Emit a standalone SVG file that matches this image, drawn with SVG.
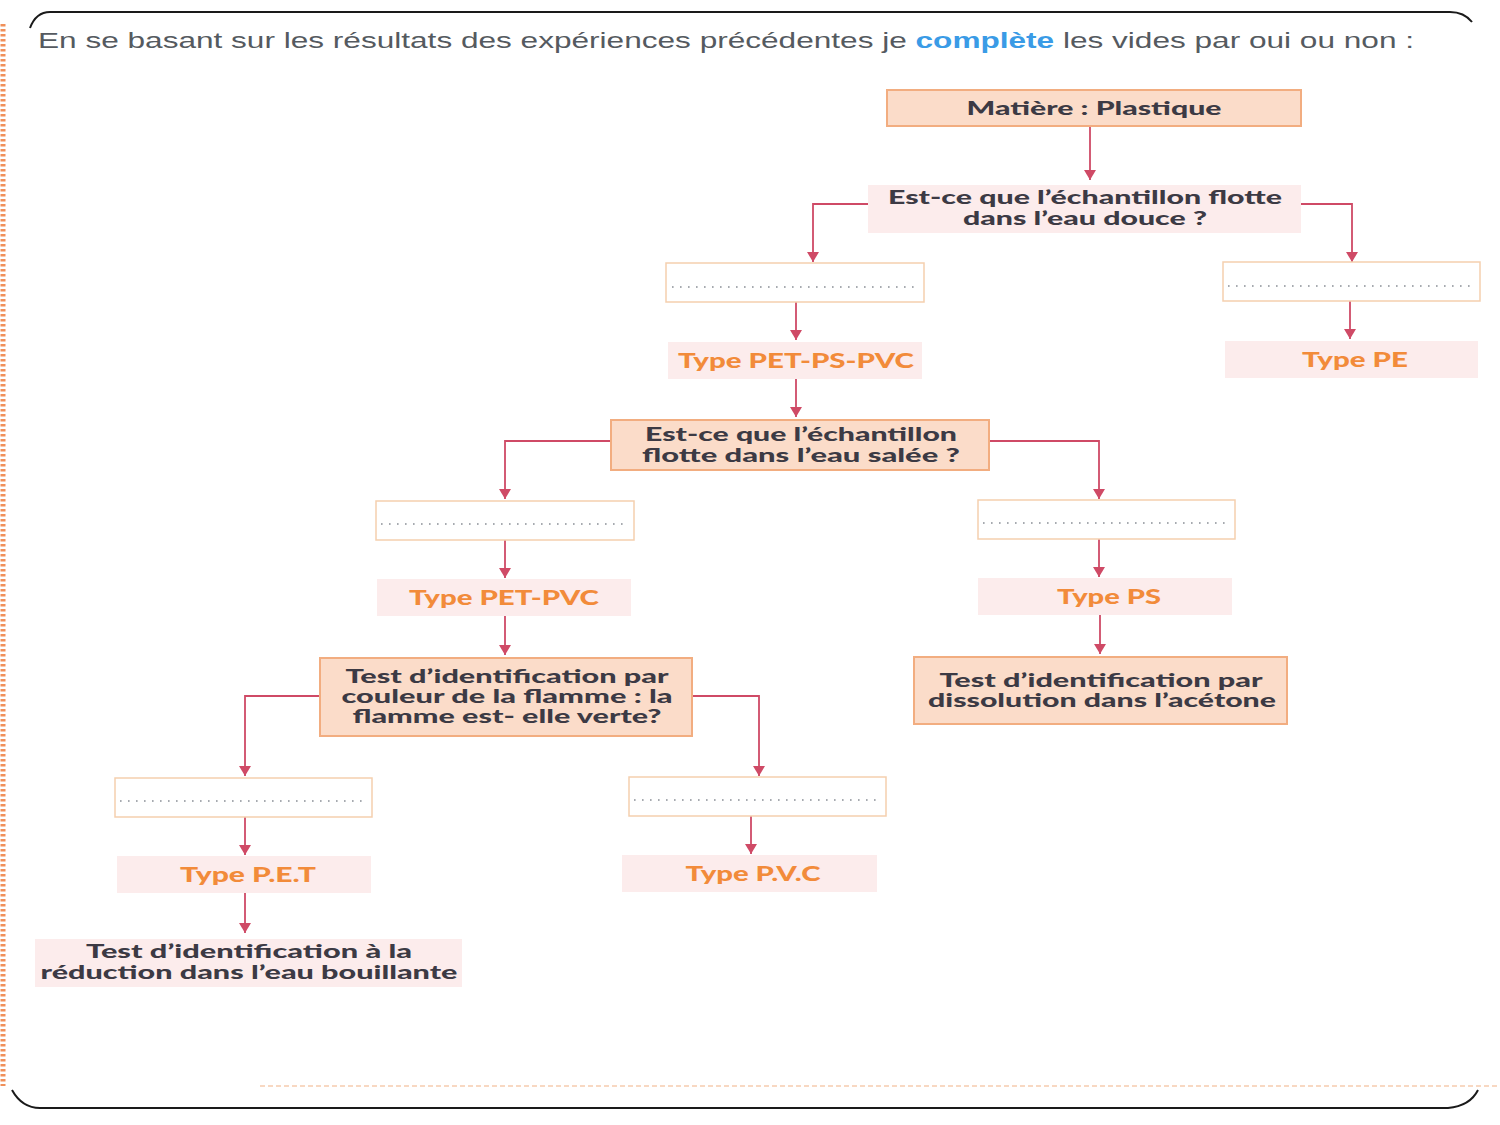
<svg xmlns="http://www.w3.org/2000/svg" width="1500" height="1125" viewBox="0 0 1500 1125">
<defs>
<marker id="ah" viewBox="0 0 10 12" refX="10" refY="6" markerWidth="10" markerHeight="12" markerUnits="userSpaceOnUse" orient="auto">
<path d="M0,0 L10,6 L0,12 Z" fill="#cf4a66"/>
</marker>
<style>
.frame{fill:none;stroke:#1a1a1a;stroke-width:2}
.dots{fill:none;stroke:#f0905a;stroke-width:5;stroke-dasharray:2.5 2.5}
.title{font-family:"Liberation Sans",Arial,sans-serif;font-size:22px;fill:#555a60}
.blue{fill:#3a9be6;font-weight:bold}
.peach{fill:#fbdcc9;stroke:#f2ad80;stroke-width:2}
.pink{fill:#fcecec}
.empty{fill:#ffffff;stroke:#f5cfae;stroke-width:1.5}
.fill{stroke:#8a8f96;stroke-width:1.6;stroke-dasharray:1.6 6.4}
.dark{font-family:Lato,"Noto Sans",sans-serif;font-weight:900;font-size:19px;fill:#3c3a44;text-anchor:middle}
.orange{font-family:Lato,"Noto Sans",sans-serif;font-weight:900;font-size:20px;fill:#f28b3a;text-anchor:middle}
.conn{fill:none;stroke:#cf4a66;stroke-width:1.8;marker-end:url(#ah)}
</style>
</defs>
<rect width="1500" height="1125" fill="#ffffff"/>
<g id="frame">
<path class="frame" d="M30,28 Q36,12 50,12 L1450,12 Q1464,12 1472,22"/>
<path class="frame" d="M12,1090 Q22,1108 40,1108 L1448,1108 Q1470,1106 1478,1090"/>
<line class="dots" x1="3" y1="24" x2="3" y2="1086"/>
<line x1="260" y1="1086" x2="1500" y2="1086" stroke="#f5c09a" stroke-width="1.5" stroke-dasharray="5 3" opacity="0.8"/>
</g>
<text class="title" x="38" y="48" textLength="1376" lengthAdjust="spacingAndGlyphs">En se basant sur les résultats des expériences précédentes je <tspan class="blue">complète</tspan> les vides par oui ou non :</text>
<g id="connectors">
<line class="conn" x1="1090" y1="126" x2="1090" y2="180"/>
<polyline class="conn" points="868,204 813,204 813,262"/>
<polyline class="conn" points="1301,204 1352,204 1352,262"/>
<line class="conn" x1="796" y1="302" x2="796" y2="340"/>
<line class="conn" x1="1350" y1="301" x2="1350" y2="339"/>
<line class="conn" x1="796" y1="379" x2="796" y2="417"/>
<polyline class="conn" points="611,441 505,441 505,499"/>
<polyline class="conn" points="989,441 1099,441 1099,499"/>
<line class="conn" x1="505" y1="540" x2="505" y2="578"/>
<line class="conn" x1="1099" y1="539" x2="1099" y2="577"/>
<line class="conn" x1="505" y1="616" x2="505" y2="655"/>
<line class="conn" x1="1100" y1="615" x2="1100" y2="654"/>
<polyline class="conn" points="320,696 245,696 245,776"/>
<polyline class="conn" points="692,696 759,696 759,776"/>
<line class="conn" x1="245" y1="817" x2="245" y2="855"/>
<line class="conn" x1="751" y1="816" x2="751" y2="854"/>
<line class="conn" x1="245" y1="893" x2="245" y2="933"/>
</g>
<g id="n-matiere">
<rect class="peach" x="887" y="90" width="414" height="36"/>
<text class="dark" x="1094" y="115" textLength="255" lengthAdjust="spacingAndGlyphs">Matière : Plastique</text>
</g>
<g id="n-douce">
<rect class="pink" x="868" y="185" width="433" height="48"/>
<text class="dark" x="1085" y="204" textLength="394" lengthAdjust="spacingAndGlyphs">Est-ce que l’échantillon flotte</text>
<text class="dark" x="1085" y="225" textLength="244" lengthAdjust="spacingAndGlyphs">dans l’eau douce ?</text>
</g>
<g id="n-blank1">
<rect class="empty" x="666" y="263" width="258" height="39"/>
<line class="fill" x1="672" y1="287" x2="918" y2="287"/>
</g>
<g id="n-blank2">
<rect class="empty" x="1223" y="262" width="257" height="39"/>
<line class="fill" x1="1228" y1="286" x2="1474" y2="286"/>
</g>
<g id="n-petpspvc">
<rect class="pink" x="668" y="342" width="254" height="37"/>
<text class="orange" x="796" y="368" textLength="236" lengthAdjust="spacingAndGlyphs">Type PET-PS-PVC</text>
</g>
<g id="n-pe">
<rect class="pink" x="1225" y="341" width="253" height="37"/>
<text class="orange" x="1355" y="367" textLength="106" lengthAdjust="spacingAndGlyphs">Type PE</text>
</g>
<g id="n-salee">
<rect class="peach" x="611" y="420" width="378" height="50"/>
<text class="dark" x="801" y="441" textLength="312" lengthAdjust="spacingAndGlyphs">Est-ce que l’échantillon</text>
<text class="dark" x="801" y="462" textLength="318" lengthAdjust="spacingAndGlyphs">flotte dans l’eau salée ?</text>
</g>
<g id="n-blank3">
<rect class="empty" x="376" y="501" width="258" height="39"/>
<line class="fill" x1="381" y1="524" x2="628" y2="524"/>
</g>
<g id="n-blank4">
<rect class="empty" x="978" y="500" width="257" height="39"/>
<line class="fill" x1="983" y1="523" x2="1229" y2="523"/>
</g>
<g id="n-petpvc">
<rect class="pink" x="377" y="579" width="254" height="37"/>
<text class="orange" x="504" y="605" textLength="190" lengthAdjust="spacingAndGlyphs">Type PET-PVC</text>
</g>
<g id="n-ps">
<rect class="pink" x="978" y="578" width="254" height="37"/>
<text class="orange" x="1109" y="604" textLength="104" lengthAdjust="spacingAndGlyphs">Type PS</text>
</g>
<g id="n-flamme">
<rect class="peach" x="320" y="658" width="372" height="78"/>
<text class="dark" x="507" y="683" textLength="323" lengthAdjust="spacingAndGlyphs">Test d’identification par</text>
<text class="dark" x="507" y="703" textLength="331" lengthAdjust="spacingAndGlyphs">couleur de la flamme : la</text>
<text class="dark" x="507" y="723" textLength="309" lengthAdjust="spacingAndGlyphs">flamme est- elle verte?</text>
</g>
<g id="n-acetone">
<rect class="peach" x="914" y="657" width="373" height="67"/>
<text class="dark" x="1101" y="687" textLength="323" lengthAdjust="spacingAndGlyphs">Test d’identification par</text>
<text class="dark" x="1102" y="707" textLength="348" lengthAdjust="spacingAndGlyphs">dissolution dans l’acétone</text>
</g>
<g id="n-blank5">
<rect class="empty" x="115" y="778" width="257" height="39"/>
<line class="fill" x1="120" y1="801" x2="366" y2="801"/>
</g>
<g id="n-blank6">
<rect class="empty" x="629" y="777" width="257" height="39"/>
<line class="fill" x1="634" y1="800" x2="880" y2="800"/>
</g>
<g id="n-pet">
<rect class="pink" x="117" y="856" width="254" height="37"/>
<text class="orange" x="248" y="882" textLength="136" lengthAdjust="spacingAndGlyphs">Type P.E.T</text>
</g>
<g id="n-pvc">
<rect class="pink" x="622" y="855" width="255" height="37"/>
<text class="orange" x="753" y="881" textLength="135" lengthAdjust="spacingAndGlyphs">Type P.V.C</text>
</g>
<g id="n-bouillante">
<rect class="pink" x="35" y="939" width="427" height="48"/>
<text class="dark" x="249" y="958" textLength="326" lengthAdjust="spacingAndGlyphs">Test d’identification à la</text>
<text class="dark" x="249" y="979" textLength="417" lengthAdjust="spacingAndGlyphs">réduction dans l’eau bouillante</text>
</g>
</svg>
